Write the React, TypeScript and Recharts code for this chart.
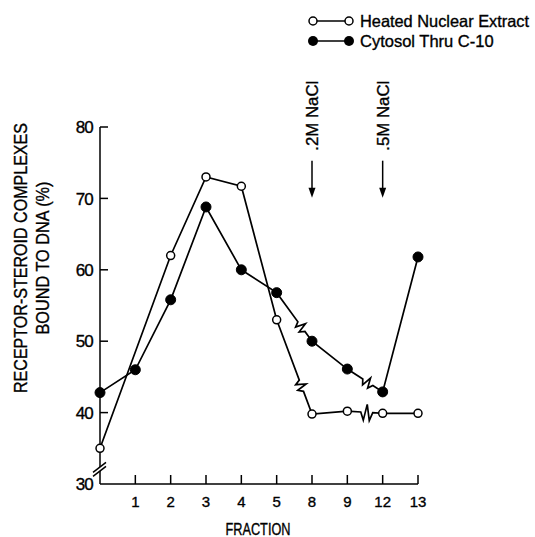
import React from 'react';
import { LineChart, Line, XAxis, YAxis, ReferenceDot } from 'recharts';

// ---- data ----
const fractionLabels = ['', '1', '2', '3', '4', '5', '8', '9', '12', '13'];
const heatedNuclearExtract: (number | null)[] = [35, null, 62, 73, 71.7, 53, 39.8, 40.2, 39.9, 39.9];
const cytosolThruC10: (number | null)[] = [42.8, 46, 55.8, 68.8, 60, 56.8, 50, 46.1, 42.9, 61.8];
const yTicks = [30, 40, 50, 60, 70, 80];
const xTicks = [1, 2, 3, 4, 5, 6, 7, 8, 9];
// axis breaks drawn on the connecting segments (segment starts at data index)
const breakStartIndex = [5, 7];
const heatedBreakPos = [0.7, 0.55];
const cytosolBreakPos = [0.7, 0.58];
const heatedBreakAmp = [5, 8];
const cytosolBreakAmp = [5, 5];
// salt step annotations
const saltIndex = [6, 8];
const saltLabels = ['.2M NaCl', '.5M NaCl'];
const arrowTipValue = 70.1;
const axisBreakValue = 32.2;

const FONT = '"Liberation Sans", Arial, Helvetica, sans-serif';
const TXT = { fontFamily: FONT, fill: '#000', stroke: '#000', strokeWidth: 0.35 };

const data = fractionLabels.map((f, i) => ({
  i,
  fraction: f,
  heated: heatedNuclearExtract[i],
  cytosol: cytosolThruC10[i],
}));

function breakCurve(values: (number | null)[], pos: number[], amps: number[]) {
  const ord: number[] = [];
  let c = 0;
  values.forEach((v) => {
    ord.push(c);
    if (v != null) c++;
  });
  const segs = breakStartIndex.map((k, j) => ({ seg: ord[k], t: pos[j], a: amps[j] }));
  return (context: any) => {
    let pts: number[][] = [];
    return {
      areaStart() {},
      areaEnd() {},
      lineStart() {
        pts = [];
      },
      point(x: number, y: number) {
        pts.push([+x, +y]);
      },
      lineEnd() {
        if (!pts.length) return;
        context.moveTo(pts[0][0], pts[0][1]);
        for (let n = 1; n < pts.length; n++) {
          const [x0, y0] = pts[n - 1];
          const [x1, y1] = pts[n];
          const b = segs.find((s) => s.seg === n - 1);
          if (b) {
            const dx = x1 - x0;
            const dy = y1 - y0;
            const len = Math.hypot(dx, dy) || 1;
            const ux = dx / len;
            const uy = dy / len;
            const nx = -uy;
            const ny = ux;
            const cx = x0 + dx * b.t;
            const cy = y0 + dy * b.t;
            const h = 6;
            const seq = [
              [-1, 0],
              [-0.5, 1],
              [0, -1],
              [0.5, 1],
              [1, 0],
            ];
            seq.forEach(([s, k]) => {
              context.lineTo(cx + ux * h * s + nx * b.a * k, cy + uy * h * s + ny * b.a * k);
            });
          }
          context.lineTo(x1, y1);
        }
      },
    };
  };
}

const YTick = (props: any) => {
  const { x, y, payload } = props;
  return (
    <g>
      {payload.value !== 30 && (
        <line x1={x} x2={x + 8} y1={y} y2={y} stroke="#000" strokeWidth={1.5} />
      )}
      <text x={x - 7} y={y} dy="0.36em" textAnchor="end" fontSize={17} letterSpacing={-0.8} {...TXT}>
        {payload.value}
      </text>
    </g>
  );
};

const XTick = (props: any) => {
  const { x, y, payload } = props;
  return (
    <g>
      <line x1={x} x2={x} y1={y} y2={y - 9} stroke="#000" strokeWidth={1.5} />
      <text x={x} y={y + 23} textAnchor="middle" fontSize={15} {...TXT}>
        {fractionLabels[payload.value]}
      </text>
    </g>
  );
};

const SaltArrow = (label: string) => (props: any) => {
  const { cx, cy } = props;
  return (
    <g>
      <line x1={cx} x2={cx} y1={cy - 37} y2={cy - 8} stroke="#000" strokeWidth={1.5} />
      <path d={`M${cx - 3.5},${cy - 10} L${cx + 3.5},${cy - 10} L${cx},${cy} Z`} fill="#000" />
      <text
        transform={`translate(${cx + 6},${cy - 47}) rotate(-90)`}
        fontSize={16.5}
        textLength={70}
        lengthAdjust="spacingAndGlyphs"
        {...TXT}
      >
        {label}
      </text>
    </g>
  );
};

const AxisBreak = (props: any) => {
  const { cx, cy } = props;
  return (
    <g>
      <path
        d={`M${cx - 7},${cy + 4} L${cx + 6},${cy - 6} L${cx + 6},${cy - 2} L${cx - 7},${cy + 8} Z`}
        fill="#fff"
      />
      <line x1={cx - 7} y1={cy + 4} x2={cx + 6} y2={cy - 6} stroke="#000" strokeWidth={1.5} />
      <line x1={cx - 7} y1={cy + 8} x2={cx + 6} y2={cy - 2} stroke="#000" strokeWidth={1.5} />
    </g>
  );
};

const YLabel = () => (
  <g>
    <text
      transform="translate(27,258) rotate(-90)"
      textAnchor="middle"
      fontSize={18}
      textLength={270}
      lengthAdjust="spacingAndGlyphs"
      {...TXT}
    >
      RECEPTOR-STEROID COMPLEXES
    </text>
    <text
      transform="translate(49,258) rotate(-90)"
      textAnchor="middle"
      fontSize={18}
      textLength={153}
      lengthAdjust="spacingAndGlyphs"
      {...TXT}
    >
      BOUND TO DNA (%)
    </text>
  </g>
);

const XLabel = () => (
  <text
    x={258}
    y={535}
    textAnchor="middle"
    fontSize={16.5}
    textLength={65}
    lengthAdjust="spacingAndGlyphs"
    {...TXT}
  >
    FRACTION
  </text>
);

const LegendOverlay = () => (
  <svg
    width={535}
    height={60}
    style={{ position: 'absolute', left: 0, top: 0, pointerEvents: 'none' }}
  >
    <line x1={313} x2={349} y1={21} y2={21} stroke="#000" strokeWidth={1.5} />
    <circle cx={313} cy={21} r={4} fill="#fff" stroke="#000" strokeWidth={1.5} />
    <circle cx={349} cy={21} r={4} fill="#fff" stroke="#000" strokeWidth={1.5} />
    <text x={360} y={21} dy="0.36em" fontSize={16.5} textLength={169} lengthAdjust="spacingAndGlyphs" {...TXT}>
      Heated Nuclear Extract
    </text>
    <line x1={313} x2={349} y1={41} y2={41} stroke="#000" strokeWidth={1.5} />
    <circle cx={313} cy={41} r={5} fill="#000" />
    <circle cx={349} cy={41} r={5} fill="#000" />
    <text x={360} y={41} dy="0.36em" fontSize={16.5} {...TXT}>
      Cytosol Thru C-10
    </text>
  </svg>
);

export default function App() {
  return (
    <div style={{ position: 'absolute', left: 0, top: 0, width: 535, height: 537, background: '#fff' }}>
      <LineChart
        width={535}
        height={537}
        data={data}
        margin={{ top: 127, right: 117, bottom: 52, left: 99 }}
      >
        <XAxis
          type="number"
          dataKey="i"
          domain={[0, 9]}
          ticks={xTicks}
          height={1}
          tickSize={0}
          tickMargin={0}
          tickLine={false}
          tick={<XTick />}
          axisLine={{ stroke: '#000', strokeWidth: 1.5 }}
          interval={0}
          label={<XLabel />}
        />
        <YAxis
          type="number"
          domain={[30, 80]}
          ticks={yTicks}
          width={1}
          tickSize={0}
          tickMargin={0}
          tickLine={false}
          tick={<YTick />}
          axisLine={{ stroke: '#000', strokeWidth: 1.5 }}
          interval={0}
          label={<YLabel />}
        />
        <ReferenceDot x={0} y={axisBreakValue} r={0} shape={<AxisBreak />} ifOverflow="visible" />
        <Line
          dataKey="heated"
          type={breakCurve(heatedNuclearExtract, heatedBreakPos, heatedBreakAmp) as any}
          stroke="#000"
          strokeWidth={1.7}
          connectNulls
          dot={{ r: 4, fill: '#fff', stroke: '#000', strokeWidth: 1.5 }}
          activeDot={false}
          isAnimationActive={false}
        />
        <Line
          dataKey="cytosol"
          type={breakCurve(cytosolThruC10, cytosolBreakPos, cytosolBreakAmp) as any}
          stroke="#000"
          strokeWidth={1.7}
          connectNulls
          dot={{ r: 5, fill: '#000', stroke: '#000', strokeWidth: 1 }}
          activeDot={false}
          isAnimationActive={false}
        />
        {saltIndex.map((xi, j) => (
          <ReferenceDot
            key={j}
            x={xi}
            y={arrowTipValue}
            r={0}
            shape={SaltArrow(saltLabels[j])}
            ifOverflow="visible"
          />
        ))}
      </LineChart>
      <LegendOverlay />
    </div>
  );
}
